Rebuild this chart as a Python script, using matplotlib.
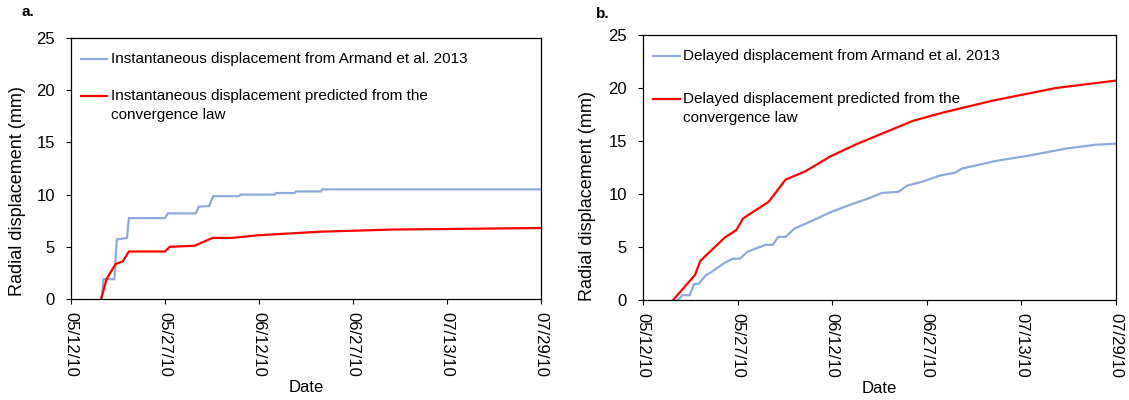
import matplotlib
matplotlib.use("Agg")
import matplotlib.pyplot as plt

plt.rcParams['font.family'] = ['Liberation Sans', 'DejaVu Sans']

# x values: days since 05/12/10
tick_days = [0, 15.6, 31.2, 46.8, 62.4, 78]
tick_labels = ["05/12/10", "05/27/10", "06/12/10", "06/27/10", "07/13/10", "07/29/10"]
y_ticks = [0, 5, 10, 15, 20, 25]

# Panel a: instantaneous displacement
a_meas_x = [5.1, 5.4, 7.2, 7.6, 9.3, 9.6, 15.6, 16.1, 20.7, 21.2, 22.9, 23.6,
            27.9, 28.1, 33.8, 34.0, 37.1, 37.3, 41.5, 41.7, 78.0]
a_meas_y = [0.0, 1.9, 1.9, 5.7, 5.85, 7.75, 7.75, 8.2, 8.2, 8.85, 8.9, 9.85,
            9.85, 10.0, 10.0, 10.15, 10.15, 10.3, 10.3, 10.5, 10.5]
a_pred_x = [5.0, 5.9, 7.4, 8.6, 9.6, 15.6, 16.4, 20.5, 23.5, 26.7, 30.9, 41.5, 53.3, 78.0]
a_pred_y = [0.0, 1.9, 3.35, 3.6, 4.55, 4.55, 5.0, 5.1, 5.85, 5.85, 6.1, 6.45, 6.65, 6.8]

# Panel b: delayed displacement
b_meas_x = [5.75, 6.5, 7.7, 8.4, 9.2, 10.4, 11.3, 13.3, 14.8, 16.0, 17.2, 20.2, 21.4,
            22.3, 23.5, 25.0, 28.0, 31.0, 34.0, 37.0, 39.4, 42.1, 43.6, 46.0, 49.0,
            51.4, 52.6, 56.1, 58.0, 63.9, 69.9, 74.7, 78.0]
b_meas_y = [0.0, 0.45, 0.45, 1.5, 1.55, 2.35, 2.65, 3.45, 3.9, 3.9, 4.55, 5.2, 5.2,
            5.95, 5.95, 6.75, 7.5, 8.3, 8.95, 9.55, 10.1, 10.2, 10.8, 11.15, 11.75,
            12.0, 12.4, 12.85, 13.1, 13.65, 14.3, 14.65, 14.75]
b_pred_x = [4.97, 8.56, 9.46, 13.5, 15.4, 16.5, 20.7, 23.5, 26.8, 30.9, 35.2, 44.5,
            49.6, 57.6, 68.1, 78.0]
b_pred_y = [0.0, 2.35, 3.7, 5.9, 6.6, 7.7, 9.25, 11.35, 12.15, 13.55, 14.7, 16.9,
            17.7, 18.8, 20.0, 20.7]

BLUE = "#8EA9DB"
RED = "#FF0000"

fig = plt.figure(figsize=(11.29, 4.0), dpi=100)
W, H = 1129, 400


def make_axes(l, t, r, b):
    return fig.add_axes([l / W, 1 - b / H, (r - l) / W, (b - t) / H])


axA = make_axes(71, 38, 541, 299)
axB = make_axes(643, 35, 1116, 300)

panels = [
    (axA, a_meas_x, a_meas_y, a_pred_x, a_pred_y,
     "Instantaneous displacement from Armand et al. 2013",
     "Instantaneous displacement predicted from the", "convergence law",
     (0.021, 0.077, 0.085, 0.920, 0.778, 0.705)),
    (axB, b_meas_x, b_meas_y, b_pred_x, b_pred_y,
     "Delayed displacement from Armand et al. 2013",
     "Delayed displacement predicted from the", "convergence law",
     (0.021, 0.078, 0.0846, 0.919, 0.758, 0.685)),
]

for ax, mx, my, px, py, l1, l2a, l2b, pos in panels:
    ax.plot(mx, my, color=BLUE, lw=1.6, solid_joinstyle='miter')
    ax.plot(px, py, color=RED, lw=1.6)
    ax.set_xlim(0, 78)
    ax.set_ylim(0, 25)
    ax.set_xticks(tick_days)
    ax.set_xticklabels(tick_labels, rotation=270, fontsize=12)
    ax.set_yticks(y_ticks)
    ax.set_yticklabels([str(v) for v in y_ticks], fontsize=12)
    ax.tick_params(direction='out', length=3.5, width=0.8, pad=6, color='black')
    ax.tick_params(axis='y', pad=8)
    for s in ax.spines.values():
        s.set_linewidth(0.9)
        s.set_color('black')
    ax.set_xlabel("Date", fontsize=12, labelpad=2)
    x0, x1, xt, yb, yr, yr2 = pos
    ax.plot([x0, x1], [yb, yb], color=BLUE, lw=1.6, transform=ax.transAxes, clip_on=False)
    ax.plot([x0, x1], [yr, yr], color=RED, lw=1.6, transform=ax.transAxes, clip_on=False)
    ax.text(xt, yb, l1, transform=ax.transAxes, fontsize=11, va='center', ha='left')
    ax.text(xt, yr, l2a, transform=ax.transAxes, fontsize=11, va='center', ha='left')
    ax.text(xt, yr2, l2b, transform=ax.transAxes, fontsize=11, va='center', ha='left')

fig.text(18 / W, 1 - 191 / H, "Radial displacement (mm)", rotation=90,
         ha='center', va='center', fontsize=13)
fig.text(587 / W, 1 - 196 / H, "Radial displacement (mm)", rotation=90,
         ha='center', va='center', fontsize=13)
fig.text(22 / W, 1 - 12 / H, "a.", fontsize=11, fontweight='bold', ha='left', va='center')
fig.text(596 / W, 1 - 14 / H, "b.", fontsize=11, fontweight='bold', ha='left', va='center')

fig.savefig("out.png", dpi=100)
